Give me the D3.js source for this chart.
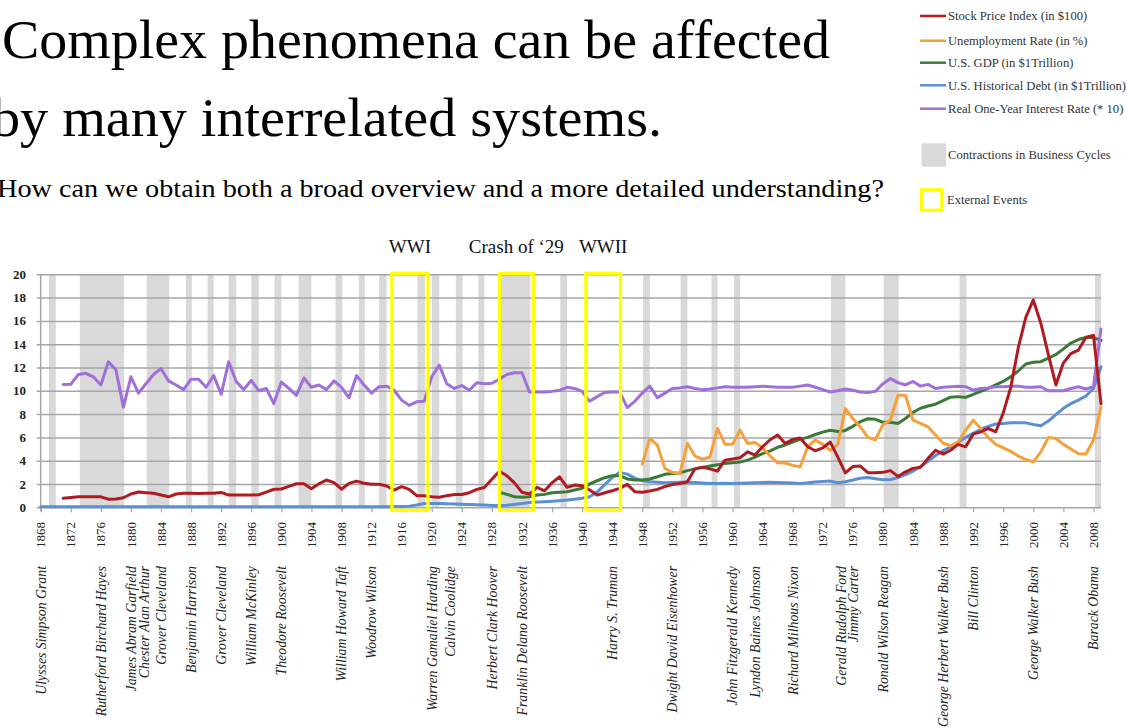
<!DOCTYPE html>
<html>
<head>
<meta charset="utf-8" />
<title>Complex phenomena</title>
<script src="https://cdn.jsdelivr.net/npm/d3@7"></script>
<style>
  body { margin: 0; padding: 0; background: #fff; }
  svg { display: block; font-family: "Liberation Serif", "Times New Roman", serif; }
  .grid line { stroke: #a6a6a6; stroke-width: 1.5px; }
  .grid path { display: none; }
  .ylab { font-size: 13px; font-weight: bold; fill: #222; }
  .xaxis line { stroke: #a6a6a6; stroke-width: 1.2px; }
  .xaxis path { display: none; }
  .year { font-size: 13px; fill: #222; }
  .pres { font-size: 13.8px; font-style: italic; fill: #222; }
  .legend text { font-size: 12.6px; fill: #333; }
  .event { font-size: 19px; fill: #111; }
  .series { fill: none; stroke-width: 3px; stroke-linejoin: round; stroke-linecap: round; }
</style>
</head>
<body>
<svg id="chart" width="1127" height="728"></svg>
<script>
// ---- data ----
var yTicks = [0, 2, 4, 6, 8, 10, 12, 14, 16, 18, 20];
var tickYears = [1868, 1872, 1876, 1880, 1884, 1888, 1892, 1896, 1900, 1904, 1908, 1912,
  1916, 1920, 1924, 1928, 1932, 1936, 1940, 1944, 1948, 1952, 1956, 1960, 1964, 1968,
  1972, 1976, 1980, 1984, 1988, 1992, 1996, 2000, 2004, 2008];

// stock price index (in $100), 1871-2009
var stockStart = 1871;
var stock = [0.77, 0.85, 0.9, 0.9, 0.9, 0.9, 0.7, 0.72, 0.82, 1.14,
  1.31, 1.25, 1.2, 1.05, 0.9, 1.14, 1.2, 1.2, 1.18, 1.2,
  1.2, 1.28, 1.05, 1.05, 1.05, 1.05, 1.08, 1.3, 1.55, 1.57,
  1.8, 2.02, 2.03, 1.6, 2.02, 2.34, 2.12, 1.55, 2.05, 2.25,
  2.07, 1.98, 1.98, 1.83, 1.48, 1.77, 1.54, 1.0, 1.0, 0.91,
  0.86, 1.0, 1.1, 1.1, 1.25, 1.54, 1.7, 2.4, 3.1, 2.7,
  2.1, 1.29, 1.14, 1.71, 1.42, 2.1, 2.62, 1.71, 1.91, 1.85,
  1.48, 1.05, 1.25, 1.42, 1.63, 1.97, 1.34, 1.29, 1.4, 1.54,
  1.77, 1.95, 2.05, 2.2, 3.3, 3.45, 3.3, 3.1, 4.05, 4.15,
  4.25, 4.76, 4.48, 5.2, 5.8, 6.2, 5.48, 5.83, 5.95, 5.2,
  4.85, 5.1, 5.6, 4.3, 2.95, 3.5, 3.54, 2.97, 2.97, 3.0,
  3.15, 2.65, 3.05, 3.34, 3.43, 4.2, 4.9, 4.57, 4.9, 5.4,
  5.19, 6.28, 6.48, 6.77, 6.48, 8.1, 10.3, 13.7, 16.3, 17.8,
  15.8, 13.1, 10.5, 12.4, 13.2, 13.5, 14.6, 14.76, 8.9];

// unemployment rate (in %), 1948-2009
var unempStart = 1948;
var unemp = [3.71, 5.91, 5.34,
  3.34, 3.0, 2.91, 5.48, 4.4, 4.14, 4.3, 6.77, 5.42, 5.42,
  6.62, 5.48, 5.57, 5.1, 4.4, 3.82, 3.8, 3.6, 3.48, 5.2,
  5.77, 5.4, 4.9, 5.4, 8.48, 7.6, 6.9, 6.0, 5.8, 7.1,
  7.5, 9.62, 9.62, 7.48, 7.2, 6.9, 6.2, 5.5, 5.3, 5.6,
  6.62, 7.48, 6.77, 6.0, 5.4, 5.1, 4.8, 4.4, 4.1, 3.9,
  4.76, 6.0, 5.91, 5.4, 5.0, 4.6, 4.57, 5.77, 8.62];

// U.S. GDP (in $1 trillion), 1929-2009
var gdpStart = 1929;
var gdp = [1.29, 1.11,
  0.91, 0.86, 0.91, 1.05, 1.11, 1.25, 1.29, 1.34, 1.48, 1.63,
  2.0, 2.28, 2.54, 2.71, 2.71, 2.43, 2.34, 2.34, 2.43, 2.62,
  2.83, 2.91, 2.95, 3.15, 3.3, 3.42, 3.55, 3.65, 3.77, 3.82,
  3.88, 4.05, 4.3, 4.6, 4.85, 5.15, 5.35, 5.6, 5.85, 6.0,
  6.25, 6.45, 6.62, 6.5, 6.6, 6.95, 7.35, 7.6, 7.55, 7.3,
  7.3, 7.2, 7.62, 8.15, 8.5, 8.7, 8.85, 9.15, 9.45, 9.5,
  9.43, 9.7, 9.95, 10.2, 10.5, 10.8, 11.2, 11.7, 12.3, 12.45,
  12.5, 12.8, 13.1, 13.6, 14.1, 14.4, 14.57, 14.57, 14.33];

// U.S. historical debt (in $1 trillion), 1868-2009
var debtStart = 1868;
var debt = [0.05, 0.05, 0.05,
  0.05, 0.05, 0.05, 0.05, 0.05, 0.05, 0.05, 0.05, 0.05, 0.05,
  0.05, 0.05, 0.04, 0.04, 0.04, 0.04, 0.04, 0.04, 0.04, 0.04,
  0.04, 0.04, 0.04, 0.04, 0.04, 0.04, 0.04, 0.04, 0.04, 0.04,
  0.04, 0.04, 0.04, 0.04, 0.04, 0.04, 0.05, 0.05, 0.05, 0.05,
  0.05, 0.05, 0.05, 0.05, 0.06, 0.07, 0.1, 0.2, 0.33, 0.33,
  0.32, 0.3, 0.28, 0.27, 0.25, 0.22, 0.2, 0.15, 0.15, 0.18,
  0.25, 0.33, 0.42, 0.45, 0.48, 0.52, 0.57, 0.62, 0.69, 0.78,
  0.91, 1.3, 1.95, 2.55, 3.0, 2.85, 2.5, 2.28, 2.2, 2.15,
  2.1, 2.12, 2.14, 2.14, 2.12, 2.08, 2.05, 2.05, 2.06, 2.05,
  2.06, 2.08, 2.1, 2.12, 2.14, 2.12, 2.1, 2.08, 2.05, 2.1,
  2.18, 2.22, 2.25, 2.1, 2.2, 2.34, 2.5, 2.55, 2.45, 2.36,
  2.38, 2.55, 2.8, 3.1, 3.5, 3.95, 4.45, 4.85, 5.2, 5.6,
  6.0, 6.35, 6.7, 6.95, 7.15, 7.2, 7.25, 7.25, 7.25, 7.1,
  7.0, 7.4, 7.95, 8.5, 8.9, 9.2, 9.55, 10.2, 12.05];

// real one-year interest rate (* 10), 1871-2009
var rateStart = 1871;
var rate = [10.54, 10.56, 11.4, 11.5, 11.2, 10.5, 12.5, 11.8, 8.6, 11.2,
  9.8, 10.6, 11.4, 11.9, 10.85, 10.5, 10.1, 11.0, 11.0, 10.3,
  11.3, 9.7, 12.5, 10.8, 10.1, 10.9, 10.0, 10.2, 8.9, 10.75,
  10.2, 9.6, 11.1, 10.3, 10.5, 10.1, 10.85, 10.3, 9.4, 11.3,
  10.5, 9.8, 10.35, 10.4, 10.05, 9.2, 8.75, 9.05, 9.1, 11.2,
  12.2, 10.6, 10.2, 10.45, 10.05, 10.7, 10.6, 10.65, 11.0, 11.4,
  11.55, 11.55, 9.9, 9.9, 9.9, 9.95, 10.05, 10.3, 10.2, 9.95,
  9.1, 9.5, 9.85, 9.9, 9.9, 8.55, 9.1, 9.8, 10.4, 9.4,
  9.8, 10.2, 10.25, 10.35, 10.2, 10.1, 10.15, 10.25, 10.35, 10.3,
  10.3, 10.3, 10.35, 10.4, 10.35, 10.3, 10.3, 10.3, 10.4, 10.5,
  10.3, 10.1, 9.9, 10.0, 10.15, 10.05, 9.9, 9.85, 9.95, 10.6,
  11.05, 10.7, 10.5, 10.8, 10.4, 10.55, 10.2, 10.3, 10.35, 10.4,
  10.35, 10.05, 10.2, 10.25, 10.35, 10.35, 10.4, 10.4, 10.3, 10.3,
  10.35, 10.0, 10.0, 10.0, 10.2, 10.35, 10.15, 10.35, 15.3];

// contractions in business cycles [from, to] in years
var contractions = [[1869.1, 1870], [1873.2, 1879.1], [1882.1, 1885.1], [1887.3, 1888.1],
  [1890.2, 1891], [1893, 1894], [1896, 1897], [1899.1, 1900], [1902.3, 1904],
  [1907.2, 1908.1], [1910.3, 1911.1], [1913, 1914], [1918.1, 1919.1], [1920, 1921],
  [1923.2, 1924.1], [1926.2, 1927], [1929.1, 1933.1], [1937.1, 1938], [1948.1, 1949],
  [1953.1, 1954], [1957.2, 1958], [1960.2, 1961], [1973.1, 1975], [1980.1, 1982.1],
  [1990.2, 1991.1], [2008.2, 2009]];

// external events
var eventNames = ["WWI", "Crash of \u201829", "WWII"];
var eventSpans = [[1914.7, 1919.5], [1929.0, 1933.5], [1940.5, 1945.1]];

// presidents and the year slot where the name sits
var presidents = [
  ["Ulysses Simpson Grant", 1868], ["Rutherford Birchard Hayes", 1876],
  ["James Abram Garfield", 1880], ["Chester Alan Arthur", 1881.8],
  ["Grover Cleveland", 1884], ["Benjamin Harrison", 1888], ["Grover Cleveland", 1892],
  ["William McKinley", 1896], ["Theodore Roosevelt", 1900], ["William Howard Taft", 1908],
  ["Woodrow Wilson", 1912], ["Warren Gamaliel Harding", 1920], ["Calvin Coolidge", 1922.5],
  ["Herbert Clark Hoover", 1928], ["Franklin Delano Roosevelt", 1932],
  ["Harry S. Truman", 1944], ["Dwight David Eisenhower", 1952],
  ["John Fitzgerald Kennedy", 1960], ["Lyndon Baines Johnson", 1963],
  ["Richard Milhous Nixon", 1968], ["Gerald Rudolph Ford", 1974.4], ["Jimmy Carter", 1976],
  ["Ronald Wilson Reagan", 1980], ["George Herbert Walker Bush", 1988],
  ["Bill Clinton", 1992], ["George Walker Bush", 2000], ["Barack Obama", 2008]];

var seriesNames = ["Stock Price Index (in $100)", "Unemployment Rate (in %)",
  "U.S. GDP (in $1Trillion)", "U.S. Historical Debt (in $1Trillion)",
  "Real One-Year Interest Rate (* 10)"];
var seriesColors = ["#b01a20", "#f5a03a", "#3b7a36", "#5b8fd4", "#a06fd9"];

// ---- layout ----
var svg = d3.select("#chart");
var plotLeft = 40.7, plotRight = 1101, plotTop = 274.3, plotBottom = 507.3;

var x = d3.scaleLinear().domain([1868, 2009]).range([plotLeft, plotRight]);
var y = d3.scaleLinear().domain([0, 20]).range([plotBottom, plotTop]);

function toPoints(start, values) {
  return values.map(function(v, i) { return { year: start + i, value: v }; });
}

// title
svg.append("text")
    .attr("x", 2).attr("y", 58)
    .attr("font-size", 55)
    .attr("textLength", 828).attr("lengthAdjust", "spacingAndGlyphs")
    .text("Complex phenomena can be affected");
svg.append("text")
    .attr("x", -8).attr("y", 136)
    .attr("font-size", 55)
    .attr("textLength", 670).attr("lengthAdjust", "spacingAndGlyphs")
    .text("by many interrelated systems.");
svg.append("text")
    .attr("x", -3).attr("y", 197)
    .attr("font-size", 25)
    .attr("textLength", 887).attr("lengthAdjust", "spacingAndGlyphs")
    .text("How can we obtain both a broad overview and a more detailed understanding?");

// contraction bands
svg.append("g").selectAll("rect")
  .data(contractions)
  .join("rect")
    .attr("x", function(d) { return x(d[0]); })
    .attr("width", function(d) { return x(d[1]) - x(d[0]); })
    .attr("y", plotTop)
    .attr("height", plotBottom - plotTop)
    .attr("fill", "#d9d9d9");

// horizontal grid + y labels
var yAxis = svg.append("g")
    .attr("class", "grid")
    .attr("transform", "translate(" + plotLeft + ",0)")
    .call(d3.axisLeft(y).tickValues(yTicks).tickSize(-(plotRight - plotLeft)).tickFormat(""));
yAxis.selectAll(".tick line").attr("x1", -4);
svg.append("line")
    .attr("x1", plotLeft).attr("x2", plotLeft)
    .attr("y1", plotTop).attr("y2", plotBottom + 4)
    .attr("stroke", "#a6a6a6").attr("stroke-width", 1.5);

svg.append("g").selectAll("text")
  .data(yTicks)
  .join("text")
    .attr("class", "ylab")
    .attr("x", 26)
    .attr("y", function(d) { return y(d); })
    .attr("dy", "0.35em")
    .attr("text-anchor", "end")
    .text(function(d) { return d; });

// x ticks
svg.append("g")
    .attr("class", "xaxis")
    .attr("transform", "translate(0," + plotBottom + ")")
    .call(d3.axisBottom(x).tickValues(tickYears).tickSize(5).tickFormat(""));

svg.append("g").selectAll("text")
  .data(tickYears)
  .join("text")
    .attr("class", "year")
    .attr("transform", function(d) { return "translate(" + x(d) + ",522) rotate(-90)"; })
    .attr("text-anchor", "end")
    .attr("dy", "0.35em")
    .text(function(d) { return d; });

svg.append("g").selectAll("text")
  .data(presidents)
  .join("text")
    .attr("class", "pres")
    .attr("transform", function(d) { return "translate(" + x(d[1]) + ",566) rotate(-90)"; })
    .attr("text-anchor", "end")
    .attr("dy", "0.35em")
    .text(function(d) { return d[0]; });

// series
var line = d3.line()
    .x(function(d) { return x(d.year); })
    .y(function(d) { return y(d.value); });

var seriesData = [toPoints(stockStart, stock), toPoints(unempStart, unemp),
  toPoints(gdpStart, gdp), toPoints(debtStart, debt), toPoints(rateStart, rate)];
var drawOrder = [3, 2, 1, 4, 0];

svg.append("g").selectAll("path")
  .data(drawOrder)
  .join("path")
    .attr("class", "series")
    .attr("stroke", function(i) { return seriesColors[i]; })
    .attr("d", function(i) { return line(seriesData[i]); });

// external event boxes
svg.append("g").selectAll("rect")
  .data(eventSpans)
  .join("rect")
    .attr("x", function(d) { return x(d[0]); })
    .attr("width", function(d) { return x(d[1]) - x(d[0]); })
    .attr("y", plotTop - 1)
    .attr("height", plotBottom - plotTop + 4)
    .attr("fill", "none")
    .attr("stroke", "#ffff00")
    .attr("stroke-width", 3.3);

svg.append("g").selectAll("text")
  .data(eventSpans)
  .join("text")
    .attr("class", "event")
    .attr("x", function(d) { return x((d[0] + d[1]) / 2); })
    .attr("y", 253)
    .attr("text-anchor", "middle")
    .text(function(d, i) { return eventNames[i]; });

// legend
var legend = svg.append("g").attr("class", "legend");
var legendRows = [16, 40.7, 62.7, 85.3, 108.7];
seriesNames.forEach(function(name, i) {
  legend.append("line")
      .attr("x1", 920).attr("x2", 946)
      .attr("y1", legendRows[i]).attr("y2", legendRows[i])
      .attr("stroke", seriesColors[i]).attr("stroke-width", 2.5);
  legend.append("text")
      .attr("x", 948).attr("y", legendRows[i])
      .attr("dy", "0.35em")
      .text(name);
});
legend.append("rect")
    .attr("x", 921.7).attr("y", 143.3).attr("width", 24.3).attr("height", 23.4)
    .attr("fill", "#d9d9d9");
legend.append("text")
    .attr("x", 948).attr("y", 155).attr("dy", "0.35em")
    .text("Contractions in Business Cycles");
legend.append("rect")
    .attr("x", 921.5).attr("y", 189.8).attr("width", 20.3).attr("height", 20.4)
    .attr("fill", "none").attr("stroke", "#ffff00").attr("stroke-width", 3.2);
legend.append("text")
    .attr("x", 947).attr("y", 200).attr("dy", "0.35em")
    .text("External Events");
</script>
</body>
</html>
